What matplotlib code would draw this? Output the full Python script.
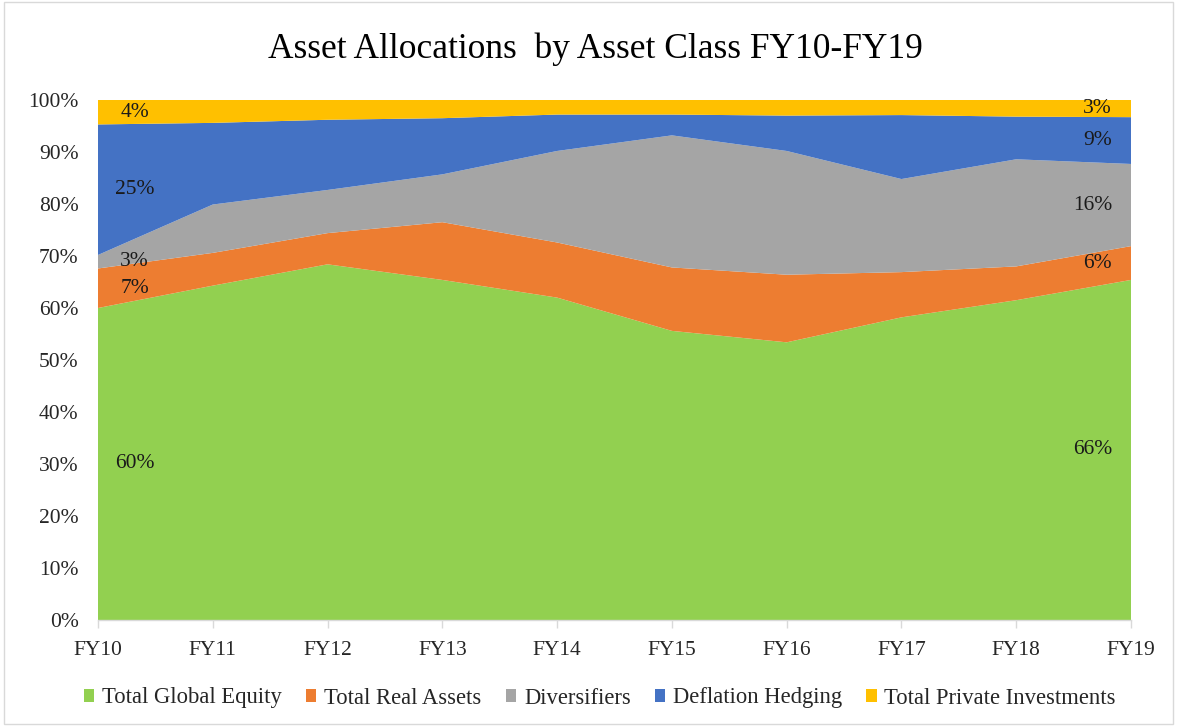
import matplotlib
matplotlib.use("Agg")
import matplotlib.pyplot as plt
import numpy as np
from matplotlib.patches import Rectangle

years = ["FY10", "FY11", "FY12", "FY13", "FY14", "FY15", "FY16", "FY17", "FY18", "FY19"]
global_equity = [60.0, 64.3, 68.4, 65.4, 62.0, 55.6, 53.4, 58.2, 61.5, 65.4]
real_assets = [7.6, 6.3, 6.0, 11.1, 10.6, 12.2, 13.0, 8.7, 6.5, 6.5]
diversifiers = [2.6, 9.3, 8.3, 9.2, 17.6, 25.4, 23.8, 17.9, 20.6, 15.8]
deflation_hedging = [25.1, 15.7, 13.5, 10.8, 7.0, 4.0, 6.8, 12.3, 8.2, 9.0]
private_investments = [4.7, 4.4, 3.8, 3.5, 2.8, 2.8, 3.0, 2.9, 3.2, 3.3]

series_names = ["Total Global Equity", "Total Real Assets", "Diversifiers",
                "Deflation Hedging", "Total Private Investments"]
colors = ["#92D050", "#ED7D31", "#A5A5A5", "#4472C4", "#FFC000"]

first_labels = ["60%", "7%", "3%", "25%", "4%"]
last_labels = ["66%", "6%", "16%", "9%", "3%"]

plt.rcParams['font.family'] = ['Liberation Serif', 'DejaVu Serif']

fig = plt.figure(figsize=(11.77, 7.26), dpi=100)
ax = fig.add_axes([98/1177, 1-620/726, (1131-98)/1177, (620-100)/726])

data = np.array([global_equity, real_assets, diversifiers, deflation_hedging, private_investments]) / 100.0
x = np.arange(len(years))
ax.stackplot(x, data, colors=colors, labels=series_names, linewidth=0)

ax.set_xlim(0, len(years) - 1)
ax.set_ylim(0, 1)
yt = np.arange(0, 1.01, 0.1)
ax.set_yticks(yt)
ax.set_yticklabels([f"{int(round(v*100))}%" for v in yt])
ax.set_xticks(x)
ax.set_xticklabels(years)

for s in ["top", "right", "left"]:
    ax.spines[s].set_visible(False)
ax.spines["bottom"].set_color("#D9D9D9")
ax.spines["bottom"].set_linewidth(1.0)
ax.tick_params(axis="y", length=0, pad=14, labelsize=15.5, labelcolor="#262626")
ax.tick_params(axis="x", length=6, width=1.0, color="#D9D9D9", direction="out",
               pad=9, labelsize=15.5, labelcolor="#262626")

# data labels
cum = np.cumsum(data, axis=0)
bottoms = cum - data
for i in range(data.shape[0]):
    mid0 = bottoms[i, 0] + data[i, 0] / 2
    ax.text(0.32, mid0, first_labels[i], ha="center", va="center", fontsize=15.5, color="#1a1a1a")
    mid1 = bottoms[i, -1] + data[i, -1] / 2
    ax.text(len(years) - 1 - 0.165, mid1, last_labels[i], ha="right", va="center",
            fontsize=15.5, color="#1a1a1a")

fig.text(595/1177, 1-58.5/726, "Asset Allocations  by Asset Class FY10-FY19", ha="center",
         va="baseline", fontsize=25.5, color="#000000")

handles, labels = ax.get_legend_handles_labels()
leg = fig.legend(handles, labels, loc="center", bbox_to_anchor=(600/1177, 1-698/726),
                 ncol=5, frameon=False,
                 prop={"family": ["Liberation Serif", "DejaVu Serif"], "size": 16.3},
                 handlelength=0.45, handleheight=0.45,
                 handletextpad=0.35, columnspacing=1.07, labelcolor="#262626",
                 borderpad=0, borderaxespad=0)

fig.patches.append(Rectangle((4/1177, 2/726), 1-8/1177, 1-4/726, transform=fig.transFigure,
                             fill=False, edgecolor="#D9D9D9", linewidth=1.0))

fig.savefig("out.png", dpi=100)
